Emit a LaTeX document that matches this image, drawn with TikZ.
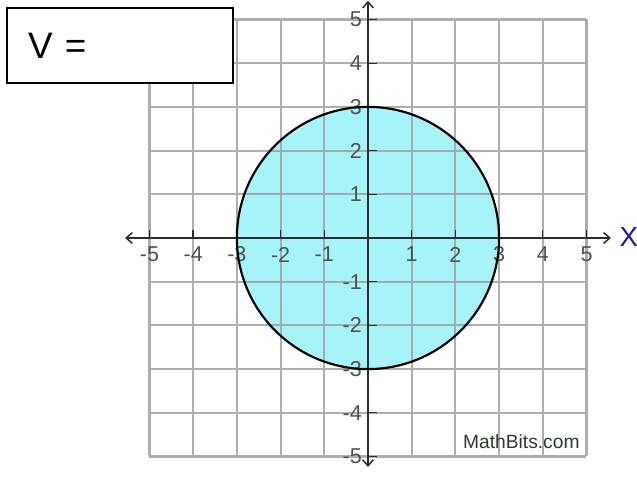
\documentclass[tikz,border=0pt]{standalone}
\usepackage{fontspec}
\setmainfont{Liberation Sans}
\usetikzlibrary{arrows.meta, positioning}
\definecolor{diskcyan}{RGB}{166, 244, 248}
\definecolor{gridgray}{RGB}{160, 160, 160}
\definecolor{axisgray}{RGB}{45, 45, 45}
\definecolor{labelgray}{RGB}{80, 80, 80}
\definecolor{xblue}{RGB}{30, 30, 140}
\definecolor{bitsgreen}{RGB}{45, 60, 45}

\begin{document}
\begin{tikzpicture}[
  ticklabel/.style={text=labelgray, font=\fontsize{14}{16}\selectfont, inner sep=1pt},
  axisline/.style={draw=axisgray, line width=1pt, {Straight Barb[length=4pt,width=7pt]}-{Straight Barb[length=4pt,width=7pt]}},
  tickmark/.style={draw=axisgray, line width=0.9pt}
]
  \useasboundingbox (-8.421,-5.515) rectangle (6.156,5.446);

  % disk of radius 3
  \fill[diskcyan] (0,0) circle (3);

  % grid
  \draw[gridgray, opacity=0.85, line width=1.4pt] (-5,-5) grid (5,5);

  % axes
  \coordinate (xleft) at (-5.56,0);
  \coordinate (xright) at (5.56,0);
  \coordinate (ytop) at (0,5.43);
  \coordinate (ybottom) at (0,-5.24);
  \draw[axisline] (xleft) -- (xright);
  \draw[axisline] (ybottom) -- (ytop);

  % ticks and labels
  \foreach \k in {-5,-4,-3,-2,-1,1,2,3,4,5} {
    \draw[tickmark] (\k,0) -- (\k,0.18);
    \draw[tickmark] (0,\k) -- (0.2,\k);
    \node[ticklabel] (xlab\k) at (\k,-0.38) {\k};
    \node[ticklabel, anchor=east] (ylab\k) at (-0.1,\k) {\k};
  }

  % circle outline
  \draw[black, line width=1.4pt] (0,0) circle (3);

  \node[text=xblue, font=\fontsize{18}{20}\selectfont] (xname) at (5.97,0.02) {X};
  \node[text=bitsgreen, font=\fontsize{12.5}{14}\selectfont, anchor=base] (credit) at (3.51,-4.81) {MathBits.com};

  % answer box
  \node[draw=black, fill=white, line width=1.4pt, anchor=north west, text width=4.21cm, inner xsep=0.48cm,
        minimum height=1.72cm, align=left, font=\fontsize{24}{28}\selectfont] (vbox) at (-8.284,5.286) {V =};
\end{tikzpicture}
\end{document}
